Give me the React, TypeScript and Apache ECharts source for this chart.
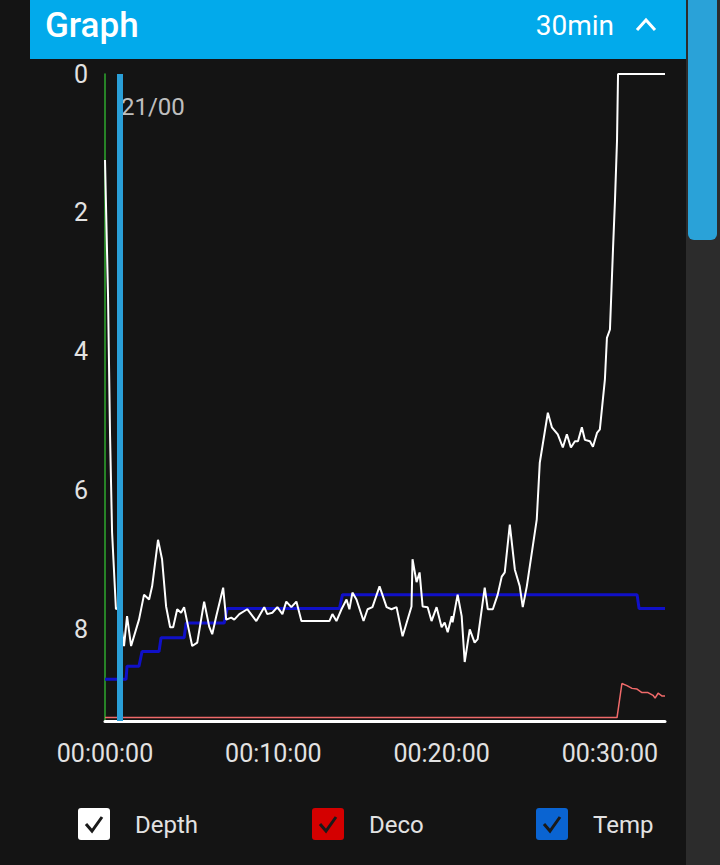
import React, { useEffect, useRef } from "react";
import * as echarts from "echarts";

// time in minutes, depth in metres
const depthTimes = [0, 0.18, 0.30, 0.42, 0.65, 0.83, 1.13, 1.31, 1.55, 2.02, 2.32, 2.62, 2.80, 3.15, 3.39, 3.63, 3.87, 4.05, 4.29, 4.52, 4.70, 4.94, 5.18, 5.48, 5.89, 6.19, 6.37, 6.61, 7.02, 7.20, 7.50, 7.68, 7.98, 8.45, 8.99, 9.46, 9.64, 9.94, 10.24, 10.54, 10.77, 11.07, 11.37, 11.67, 13.33, 13.51, 13.75, 14.05, 14.35, 14.52, 14.70, 14.94, 15.36, 15.60, 15.89, 16.31, 16.73, 17.02, 17.32, 17.68, 18.21, 18.27, 18.51, 18.69, 18.87, 19.17, 19.40, 19.70, 20.00, 20.18, 20.36, 20.60, 20.65, 20.95, 21.19, 21.37, 21.67, 21.96, 22.14, 22.56, 22.74, 23.04, 23.33, 23.57, 23.75, 24.05, 24.35, 24.64, 24.82, 25.06, 25.65, 25.83, 26.31, 26.55, 26.90, 27.20, 27.44, 27.68, 27.92, 28.10, 28.33, 28.51, 28.81, 28.99, 29.23, 29.40, 29.70, 29.82, 30.00, 30.18, 30.30, 30.42, 30.48, 33.27];
const depthValues = [1.24, 3.2, 5.2, 6.6, 7.71, 7.68, 8.24, 7.81, 8.24, 7.86, 7.50, 7.57, 7.38, 6.71, 6.99, 7.67, 7.97, 7.97, 7.71, 7.76, 7.68, 7.96, 8.24, 8.19, 7.60, 7.96, 8.07, 7.81, 7.40, 7.86, 7.83, 7.86, 7.78, 7.71, 7.88, 7.68, 7.78, 7.76, 7.68, 7.78, 7.60, 7.68, 7.60, 7.88, 7.88, 7.78, 7.88, 7.71, 7.57, 7.71, 7.47, 7.57, 7.88, 7.71, 7.68, 7.38, 7.68, 7.71, 7.68, 8.10, 7.67, 6.99, 7.32, 7.18, 7.67, 7.68, 7.88, 7.68, 7.97, 7.90, 8.04, 7.81, 7.90, 7.50, 7.81, 8.47, 8.00, 8.19, 8.14, 7.40, 7.71, 7.71, 7.50, 7.24, 7.18, 6.49, 7.14, 7.38, 7.68, 7.38, 6.42, 5.60, 4.88, 5.09, 5.19, 5.38, 5.19, 5.38, 5.29, 5.29, 5.09, 5.27, 5.29, 5.37, 5.17, 5.12, 4.40, 3.80, 3.68, 2.53, 1.81, 0.95, 0, 0];

// temperature trace, plotted on the depth scale
const tempTimes = [0, 1.25, 1.31, 2.02, 2.20, 3.21, 3.33, 4.70, 4.82, 7.08, 7.26, 13.93, 14.11, 31.61, 31.73, 33.27];
const tempValues = [8.72, 8.72, 8.53, 8.53, 8.32, 8.32, 8.12, 8.12, 7.91, 7.91, 7.70, 7.70, 7.50, 7.50, 7.70, 7.70];

// deco trace, plotted on the depth scale
const decoTimes = [0, 30.42, 30.71, 31.01, 31.31, 31.61, 31.90, 32.26, 32.56, 32.68, 32.86, 33.10, 33.27];
const decoValues = [9.27, 9.27, 8.78, 8.81, 8.85, 8.86, 8.91, 8.91, 8.95, 8.99, 8.92, 8.96, 8.96];

const markerTime = 0.89;
const markerLabel = "21/00";
const yTicks = [0, 2, 4, 6, 8];
const xTicks = [0, 10, 20, 30];
const legendItems = ["Depth", "Deco", "Temp"];
const legendColors = ["#ffffff", "#d40000", "#0a64d2"];

const zip = (a: number[], b: number[]) => a.map((t, i) => [t, b[i]]);
const fmtTime = (m: number) => {
  const mm = Math.round(m);
  return `00:${mm < 10 ? "0" + mm : mm}:00`;
};

export default function App() {
  const ref = useRef<HTMLDivElement>(null);
  useEffect(() => {
    document.body.style.margin = "0";
    const chart = echarts.init(ref.current!, null, { renderer: "svg" });
    const font = "Roboto";
    const legendX = [78, 312, 536];
    const legendGraphics: any[] = [];
    legendItems.forEach((name, i) => {
      const x = legendX[i];
      legendGraphics.push({
        type: "rect",
        shape: { x, y: 808, width: 32, height: 32, r: 3 },
        style: { fill: legendColors[i] },
      });
      legendGraphics.push({
        type: "polyline",
        shape: { points: [[x + 8, 16 + 808], [x + 14, 23 + 808], [x + 24, 9 + 808]] },
        style: { stroke: "#1a1a1a", lineWidth: 3, fill: null },
      });
      legendGraphics.push({
        type: "text",
        x: x + 57,
        y: 825,
        style: { text: name, fill: "#e2e2e2", font: `24px ${font}`, verticalAlign: "middle" },
      });
    });

    chart.setOption({
      animation: false,
      backgroundColor: "#141414",
      grid: { left: 105, top: 74, right: 55, bottom: 144, containLabel: false },
      xAxis: {
        type: "value",
        position: "bottom",
        min: 0,
        max: 33.27,
        interval: 10,
        axisLine: { show: true, onZero: false, lineStyle: { color: "#ffffff", width: 3 } },
        axisTick: { show: false },
        splitLine: { show: false },
        axisLabel: {
          color: "#e2e2e2",
          fontSize: 25,
          fontFamily: font,
          margin: 20,
          showMaxLabel: false,
          formatter: (v: number) => (xTicks.includes(v) ? fmtTime(v) : ""),
        },
      },
      yAxis: {
        type: "value",
        inverse: true,
        min: 0,
        max: 9.32,
        interval: 2,
        axisLine: { show: true, onZero: false, lineStyle: { color: "#2ea82e", width: 1.5 } },
        axisTick: { show: false },
        splitLine: { show: false },
        axisLabel: {
          color: "#e2e2e2",
          fontSize: 25,
          fontFamily: font,
          margin: 17,
          showMaxLabel: false,
          formatter: (v: number) => (yTicks.includes(v) ? String(v) : ""),
        },
      },
      series: [
        {
          name: "Deco",
          type: "line",
          data: zip(decoTimes, decoValues),
          symbol: "none",
          lineStyle: { color: "#f06a6a", width: 1.5 },
        },
        {
          name: "Temp",
          type: "line",
          data: zip(tempTimes, tempValues),
          symbol: "none",
          lineStyle: { color: "#1010c8", width: 3 },
        },
        {
          name: "Depth",
          type: "line",
          data: zip(depthTimes, depthValues),
          symbol: "none",
          lineStyle: { color: "#ffffff", width: 2 },
          markLine: {
            symbol: "none",
            silent: true,
            label: { show: false },
            lineStyle: { color: "#2a9fd8", width: 6, type: "solid" },
            data: [{ xAxis: markerTime }],
          },
        },
        {
          name: "marker",
          type: "scatter",
          symbolSize: 0,
          data: [[markerTime, 0.475]],
          label: {
            show: true,
            position: "right",
            distance: 1,
            formatter: markerLabel,
            color: "#eeeeee",
            fontSize: 24,
            fontFamily: font,
          },
        },
      ],
      graphic: [
        { type: "rect", shape: { x: 686, y: 0, width: 34, height: 865 }, style: { fill: "#2c2c2c" } },
        { type: "rect", shape: { x: 688, y: 0, width: 29, height: 240, r: [0, 0, 6, 6] }, style: { fill: "#2aa2d8" } },
        { type: "rect", shape: { x: 30, y: 0, width: 656, height: 59 }, style: { fill: "#02aaeb" } },
        { type: "text", x: 45, y: 25, style: { text: "Graph", fill: "#ffffff", font: `500 35px ${font}`, verticalAlign: "middle" } },
        { type: "text", x: 614, y: 25, style: { text: "30min", fill: "#ffffff", font: `28px ${font}`, verticalAlign: "middle", align: "right" } },
        { type: "polyline", shape: { points: [[637, 30], [646, 20], [655, 30]] }, style: { stroke: "#ffffff", lineWidth: 3, fill: null } },
        ...legendGraphics,
      ],
    });
    return () => chart.dispose();
  }, []);
  return <div ref={ref} style={{ position: "fixed", left: 0, top: 0, width: 720, height: 865 }} />;
}
